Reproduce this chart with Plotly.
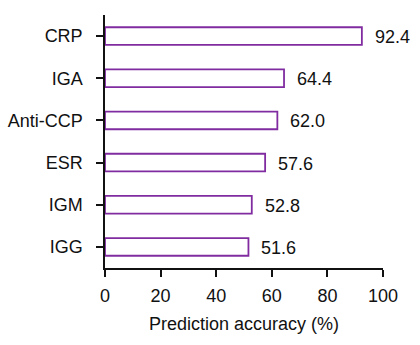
import plotly.graph_objects as go

categories = ["IGG", "IGM", "ESR", "Anti-CCP", "IGA", "CRP"]
values = [51.6, 52.8, 57.6, 62.0, 64.4, 92.4]
labels = ["51.6", "52.8", "57.6", "62.0", "64.4", "92.4"]
x_ticks = [0, 20, 40, 60, 80, 100]

purple = "rgb(128,44,160)"
font = dict(family="Liberation Sans, Arial, sans-serif", size=18, color="#111")

fig = go.Figure()
fig.add_trace(go.Bar(
    y=categories, x=values, orientation="h",
    marker=dict(color="white", line=dict(color=purple, width=1.8)),
    width=0.42,
))
for c, v, t in zip(categories, values, labels):
    fig.add_annotation(x=v, y=c, text=t, showarrow=False, xanchor="left",
                       xshift=11, yshift=-1, font=font)

fig.update_layout(
    width=420, height=345,
    margin=dict(l=105, r=37, t=15, b=77),
    plot_bgcolor="white", paper_bgcolor="white",
    font=font, showlegend=False,
    xaxis=dict(range=[0, 100], tickvals=x_ticks, showline=True, linecolor="#111",
               linewidth=1.5, ticks="outside", ticklen=7, tickwidth=1.5,
               tickcolor="#111", showgrid=False, zeroline=False, tickfont=font,
               ticklabelstandoff=4, automargin=False,
               title=dict(text="Prediction accuracy (%)", standoff=12, font=font)),
    yaxis=dict(range=[-0.5, 5.5], showline=True, linecolor="#111", linewidth=1.5,
               ticks="outside", ticklen=7, tickwidth=1.5, tickcolor="#111",
               showgrid=False, zeroline=False, ticklabelstandoff=10, tickfont=font,
               automargin=False),
)
fig.write_html("out.html")
